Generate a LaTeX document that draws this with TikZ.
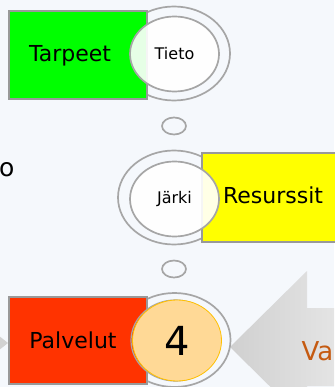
\documentclass[tikz,border=0pt]{standalone}
\usepackage{fontspec}
\setmainfont{DejaVu Sans}
\usetikzlibrary{shapes.geometric}
\definecolor{bgc}{HTML}{F5F8FC}
\definecolor{rim}{HTML}{A6A6A6}
\definecolor{boxrim}{HTML}{999999}
\definecolor{greenbox}{HTML}{00FF00}
\definecolor{yellowbox}{HTML}{FFFF00}
\definecolor{redbox}{HTML}{FF3300}
\definecolor{fourfill}{HTML}{FFD996}
\definecolor{fourrim}{HTML}{FFC000}
\definecolor{vacol}{HTML}{C55A11}
\definecolor{arrowdark}{HTML}{D0D0D0}
\definecolor{arrowlight}{HTML}{E9E9E9}
\tikzset{
  outerring/.style={ellipse, draw=rim, line width=1.7pt, fill=bgc, minimum width=112pt, minimum height=94pt, inner sep=0pt},
  innerring/.style={ellipse, draw=rim, line width=1.7pt, fill=white, fill opacity=0.9, text opacity=1, minimum width=89pt, minimum height=75pt, inner sep=0pt, font=\fontsize{16}{18}\selectfont},
  smallring/.style={ellipse, draw=rim, line width=1.7pt, minimum width=24pt, minimum height=17pt, inner sep=0pt},
  boxnode/.style={rectangle, draw=boxrim, line width=2pt, minimum width=138pt, minimum height=88pt, inner sep=0pt},
  boxtext/.style={font=\fontsize{22}{25}\selectfont, inner sep=0pt},
}
\begin{document}
\begin{tikzpicture}[x=1pt,y=-1pt]
\useasboundingbox (0,0) rectangle (334,387);
\fill[bgc] (0,0) rectangle (334,387);
\begin{scope}
\clip (0,0) rectangle (334,387);
% big gray arrow on the right
\shade[left color=arrowdark, right color=arrowlight] (230,347) -- (307,271) -- (307,308) -- (360,308) -- (360,386) -- (307,386) -- (307,423) -- cycle;
% small arrow tip on the left
\fill[arrowlight!90!black] (-30,313) -- (8,343) -- (-30,373) -- cycle;
\end{scope}
% top group
\node[outerring] (tietoOuter) at (174,53.5) {};
\node[boxnode, fill=greenbox] (tarpeetBox) at (78,55) {};
\node[innerring] (tieto) at (174.5,54) {Tieto};
\node[boxtext, anchor=base] (tarpeet) at (70,62) {Tarpeet};
% connector ring 1
\node[smallring] (ring1) at (174,126) {};
% middle group
\node[outerring] (jarkiOuter) at (174,197.5) {};
\node[boxnode, fill=yellowbox, minimum width=140pt] (resurssitBox) at (272,197.5) {};
\node[innerring] (jarki) at (174.5,199) {Järki};
\node[boxtext, anchor=base] (resurssit) at (273,203) {Resurssit};
% connector ring 2
\node[smallring] (ring2) at (174,269) {};
% bottom group
\node[outerring] (fourOuter) at (174.5,340) {};
\node[boxnode, fill=redbox, minimum height=87pt] (palvelutBox) at (78,340.5) {};
\node[ellipse, draw=gray!70, line width=1.2pt, minimum width=89pt, minimum height=81pt, inner sep=0pt] (fourShadow) at (175.5,340.5) {};
\node[ellipse, draw=fourrim, line width=0.8pt, fill=fourfill, minimum width=89pt, minimum height=81pt, inner sep=0pt, font=\fontsize{40}{44}\selectfont] (four) at (177,340.5) {4};
\node[boxtext, anchor=base] (palvelut) at (73,348) {Palvelut};
% partial texts at edges
\node[font=\fontsize{25}{28}\selectfont, anchor=base west, inner sep=0pt] (oText) at (-1,176) {o};
\node[font=\fontsize{26}{30}\selectfont, anchor=base west, inner sep=0pt, text=vacol] (vaText) at (301.5,360) {Va};
\end{tikzpicture}
\end{document}
